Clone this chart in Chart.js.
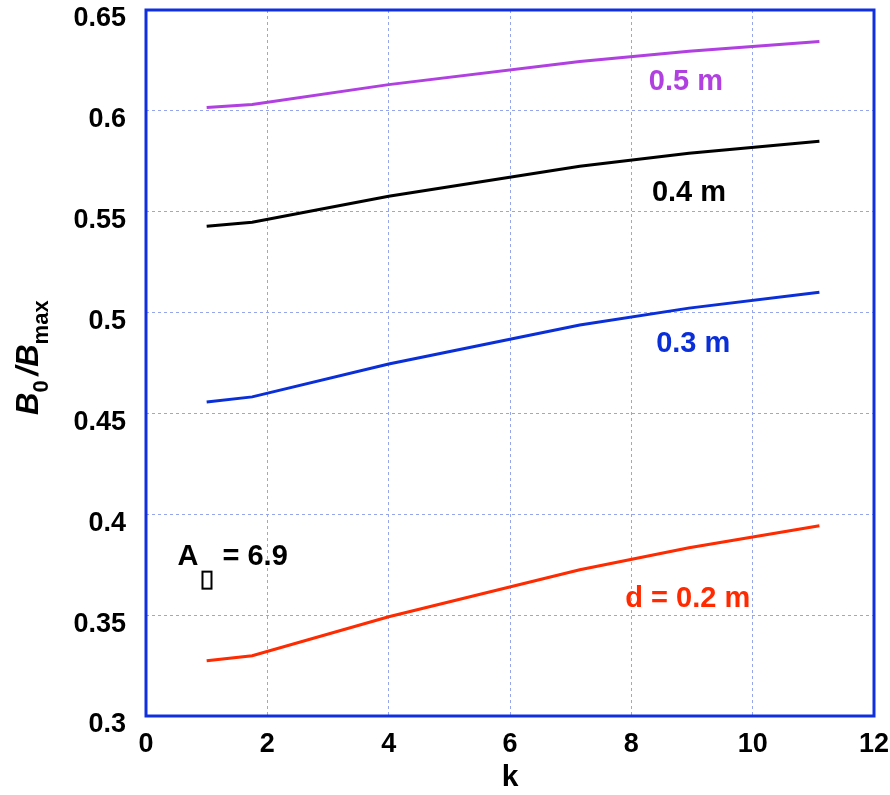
<!DOCTYPE html>
<html>
<head>
<meta charset="utf-8">
<script src="https://cdn.jsdelivr.net/npm/chart.js@4.4.1/dist/chart.umd.min.js"></script>
<style>
  html, body { margin: 0; padding: 0; background: #fff; }
  #wrap { width: 890px; height: 795px; }
</style>
</head>
<body>
<div id="wrap"><canvas id="mycanvas"></canvas></div>
<script>
// k values where each curve bends
var kValues = [1.0, 1.75, 4.0, 7.15, 8.95, 11.1];

// B0/Bmax for each thickness d
var d02 = [0.3274, 0.3299, 0.3492, 0.3725, 0.3834, 0.3943];
var d03 = [0.4557, 0.4582, 0.4745, 0.4938, 0.5022, 0.5101];
var d04 = [0.5428, 0.5448, 0.5577, 0.5725, 0.5790, 0.5849];
var d05 = [0.6017, 0.6032, 0.6130, 0.6245, 0.6295, 0.6344];

var seriesNames = ['d = 0.2 m', '0.3 m', '0.4 m', '0.5 m'];
var seriesColors = ['#ff2a00', '#0a2fd8', '#000000', '#b040e0'];

var xTicks = [0, 2, 4, 6, 8, 10, 12];
var yTicks = [0.3, 0.35, 0.4, 0.45, 0.5, 0.55, 0.6, 0.65];

// where the curve labels sit (data coords, label centre)
var labelPos = [[8.93, 0.3582], [9.02, 0.4845], [8.95, 0.5595], [8.90, 0.6145]];

function pts(ys) {
  var out = [];
  for (var i in kValues) out.push({x: kValues[i], y: ys[i]});
  return out;
}

var allSeries = [d02, d03, d04, d05];
var datasets = [];
for (var i in allSeries) {
  datasets.push({
    label: seriesNames[i],
    data: pts(allSeries[i]),
    borderColor: seriesColors[i],
    borderWidth: 3,
    pointRadius: 0,
    fill: false,
    tension: 0
  });
}

var FONT = '"Liberation Sans", Arial, sans-serif';

var decorPlugin = {
  id: 'decor',
  afterDatasetsDraw: function(chart) {
    var ctx = chart.ctx, xs = chart.scales.x, ys = chart.scales.y;
    var a = chart.chartArea;
    ctx.save();
    // frame
    ctx.strokeStyle = '#1030e0';
    ctx.lineWidth = 3;
    ctx.strokeRect(a.left, a.top, a.right - a.left, a.bottom - a.top);

    // curve labels
    ctx.font = 'bold 29px ' + FONT;
    ctx.textAlign = 'center';
    ctx.textBaseline = 'middle';
    for (var i in labelPos) {
      ctx.fillStyle = seriesColors[i];
      ctx.fillText(seriesNames[i], xs.getPixelForValue(labelPos[i][0]), ys.getPixelForValue(labelPos[i][1]));
    }

    // A = 6.9 note, subscript is a missing-glyph box
    ctx.fillStyle = '#000';
    ctx.textAlign = 'left';
    var ax = xs.getPixelForValue(0.52), ay = ys.getPixelForValue(0.379);
    ctx.fillText('A', ax, ay);
    var aw = ctx.measureText('A').width;
    ctx.lineWidth = 2;
    ctx.strokeStyle = '#000';
    ctx.strokeRect(ax + aw + 4, ay + 15, 9, 17);
    ctx.fillText('= 6.9', ax + aw + 24, ay);

    // y axis title B0/Bmax
    ctx.translate(38, 361);
    ctx.rotate(-Math.PI / 2);
    ctx.textAlign = 'left';
    ctx.textBaseline = 'alphabetic';
    var x = -54;
    ctx.font = 'italic bold 31px ' + FONT;
    ctx.fillText('B', x, 0); x += ctx.measureText('B').width;
    ctx.font = 'bold 22px ' + FONT;
    ctx.fillText('0', x, 10); x += ctx.measureText('0').width + 5;
    ctx.font = 'italic bold 31px ' + FONT;
    ctx.fillText('/B', x, 0); x += ctx.measureText('/B').width;
    ctx.font = 'bold 22px ' + FONT;
    ctx.fillText('max', x, 10);
    ctx.restore();
  }
};

var ctx = document.getElementById('mycanvas');
new Chart(ctx, {
  type: 'line',
  data: { datasets: datasets },
  plugins: [decorPlugin],
  options: {
    responsive: true,
    maintainAspectRatio: false,
    animation: false,
    layout: { padding: { top: 10, right: 16, left: 0, bottom: 0 } },
    plugins: { legend: { display: false }, tooltip: { enabled: false } },
    scales: {
      x: {
        type: 'linear',
        min: 0, max: 12,
        afterBuildTicks: function(s) { s.ticks = xTicks.map(function(v) { return {value: v}; }); },
        afterFit: function(s) { s.height = 79; s.paddingLeft = 0; s.paddingRight = 0; },
        grid: { color: '#95a5ee', lineWidth: 1, drawTicks: false },
        border: { display: false, dash: [3, 3] },
        ticks: { color: '#000', font: { family: FONT, weight: 'bold', size: 27 }, padding: 12, maxRotation: 0 },
        title: { display: true, text: 'k', color: '#000', font: { family: FONT, weight: 'bold', size: 30 }, padding: { top: 0, bottom: -1 } }
      },
      y: {
        type: 'linear',
        min: 0.3, max: 0.65,
        afterBuildTicks: function(s) { s.ticks = yTicks.map(function(v) { return {value: v}; }); },
        afterFit: function(s) { s.width = 146; s.paddingTop = 0; s.paddingBottom = 0; },
        grid: { color: '#95a5ee', lineWidth: 1, drawTicks: false },
        border: { display: false, dash: [3, 3] },
        ticks: {
          color: '#000', font: { family: FONT, weight: 'bold', size: 27 }, padding: 20, labelOffset: 9,
          callback: function(v) { return String(Math.round(v * 100) / 100); }
        }
      }
    }
  }
});
</script>
</body>
</html>
